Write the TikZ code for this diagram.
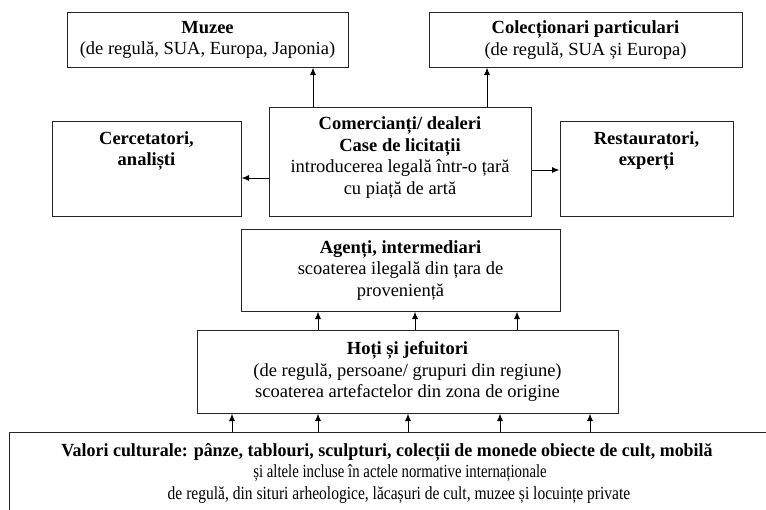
\documentclass[tikz,border=0pt]{standalone}
\usepackage{fontspec}
\setmainfont{Liberation Serif}
\usetikzlibrary{arrows.meta}
\begin{document}
\begin{tikzpicture}[x=1pt,y=-1pt,
  box/.style={draw=black!85, line width=1pt, rectangle, inner sep=0pt},
  txt/.style={align=center, inner sep=0pt, font=\fontsize{18.5}{21.5}\selectfont},
  arr/.style={line width=1pt, -{Latex[length=7.5pt,width=6pt]}}]
\useasboundingbox (0,0) rectangle (766,509);
\clip (0,0) rectangle (766,509);
% boxes
\node[box, minimum width=281pt, minimum height=55pt] (muz) at (207.5,39.5) {};
\node[box, minimum width=313pt, minimum height=55pt] (col) at (585.5,39.5) {};
\node[box, minimum width=189pt, minimum height=95pt] (cer) at (146.5,168.5) {};
\node[box, minimum width=262pt, minimum height=109pt] (com) at (400,161.5) {};
\node[box, minimum width=173pt, minimum height=95pt] (res) at (646.5,168.5) {};
\node[box, minimum width=319pt, minimum height=82pt] (age) at (400.5,270) {};
\node[box, minimum width=421pt, minimum height=83pt] (hot) at (407.5,371.5) {};
\node[box, minimum width=770pt, minimum height=100pt] (val) at (394,482) {};
% texts
\node[txt] (muzT) at (207.5,40) {\textbf{Muzee}\\(de regulă, SUA, Europa, Japonia)};
\node[txt] (colT) at (585.5,40) {\textbf{Colecționari particulari}\\(de regulă, SUA și Europa)};
\node[txt, anchor=north] (cerT) at (146.5,131) {\textbf{Cercetatori,}\\\textbf{analiști}};
\node[txt] (comT) at (400,157.5) {\textbf{Comercianți/ dealeri}\\\textbf{Case de licitații}\\introducerea legală într-o țară\\cu piață de artă};
\node[txt, anchor=north] (resT) at (646.5,131) {\textbf{Restauratori,}\\\textbf{experți}};
\node[txt] (ageT) at (400.5,270.5) {\textbf{Agenți, intermediari}\\scoaterea ilegală din țara de\\proveniență};
\node[txt] (hotT) at (407.5,371.5) {\textbf{Hoți și jefuitori}\\(de regulă, persoane/ grupuri din regiune)\\scoaterea artefactelor din zona de origine};
\node[txt] (valT) at (387,473) {\scalebox{0.97}[1]{\textbf{Valori culturale: pânze, tablouri, sculpturi, colecții de monede obiecte de cult, mobilă}}\\\hspace*{26pt}\scalebox{0.8}[1]{și altele incluse în actele normative internaționale}\\\hspace*{24pt}\scalebox{0.84}[1]{de regulă, din situri arheologice, lăcașuri de cult, muzee și locuințe private}};
% arrows
\draw[arr] (313,0 |- com.north) -- (313,0 |- muz.south);
\draw[arr] (487,0 |- com.north) -- (487,0 |- col.south);
\draw[arr] (com.west |- 0,178) -- (cer.east |- 0,178);
\draw[arr] (com.east |- 0,170) -- (res.west |- 0,170);
\foreach \x in {318,415,517}
  \draw[arr] (\x,0 |- hot.north) -- (\x,0 |- age.south);
\foreach \x in {232,318,408,500,590}
  \draw[arr] (\x,0 |- val.north) -- (\x,0 |- hot.south);
\end{tikzpicture}
\end{document}
